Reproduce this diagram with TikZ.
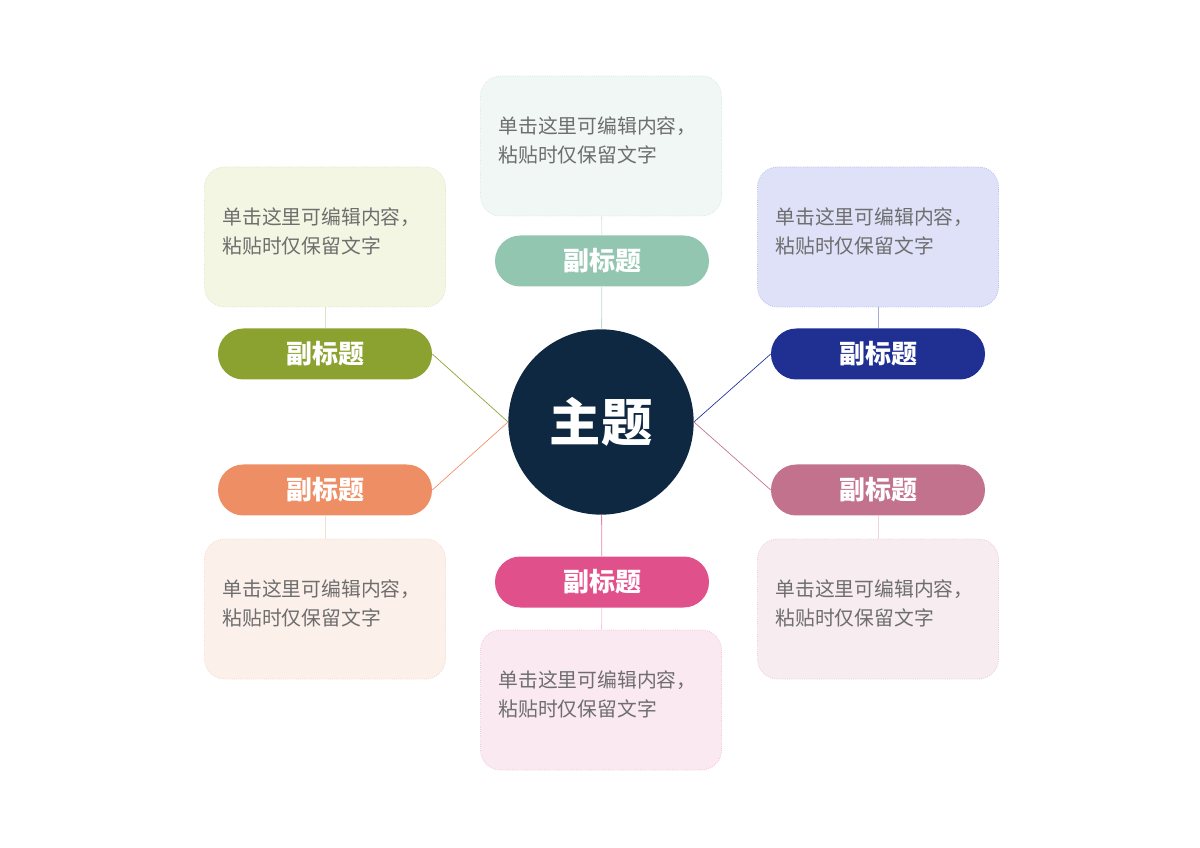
\documentclass[tikz,border=0pt]{standalone}
\usepackage{fontspec}
\usepackage{xcolor}
\usepackage{tikz}
\usetikzlibrary{shapes,positioning}
\setmainfont{Noto Sans CJK SC}
\definecolor{topicbg}{HTML}{0F2841}
\definecolor{tealc}{HTML}{93C6B1}
\definecolor{tealbox}{HTML}{F0F7F4}
\definecolor{tealrim}{HTML}{D4E9E0}
\definecolor{olivec}{HTML}{8BA230}
\definecolor{olivebox}{HTML}{F3F6E3}
\definecolor{oliverim}{HTML}{DDE6BE}
\definecolor{orangec}{HTML}{EE8E65}
\definecolor{orangebox}{HTML}{FCF0EB}
\definecolor{orangerim}{HTML}{F6D7CA}
\definecolor{rosec}{HTML}{E0508A}
\definecolor{rosebox}{HTML}{FBE9F1}
\definecolor{roserim}{HTML}{F2C4D8}
\definecolor{mauvec}{HTML}{C2728C}
\definecolor{mauvebox}{HTML}{F7ECF0}
\definecolor{mauverim}{HTML}{EACCD7}
\definecolor{navyc}{HTML}{1F3092}
\definecolor{navybox}{HTML}{DEE1F8}
\definecolor{navyrim}{HTML}{B7BEEE}
\definecolor{notetext}{HTML}{6E6E6E}
\tikzset{topic/.style={circle,fill=topicbg,text=white,minimum size=139pt,inner sep=0pt,font=\fontsize{38.5}{40}\selectfont\bfseries}}
\tikzset{sub/.style={rectangle,rounded corners=19pt,fill=#1,text=white,minimum width=160.5pt,minimum height=38.25pt,inner sep=0pt,font=\fontsize{19.5}{22}\selectfont\bfseries}}
\tikzset{note/.style 2 args={rectangle,rounded corners=15pt,fill=#1,draw=#2,densely dotted,line width=0.6pt,minimum width=180.75pt,minimum height=105pt,text width=153.75pt,text depth=30.6pt,inner sep=0pt,align=left,text=notetext,font=\fontsize{14.85}{21.3}\selectfont}}

\begin{document}
\begin{tikzpicture}[x=0.75pt,y=-0.75pt]
    \useasboundingbox (0,0) rectangle (1200,848);
    \node[topic] (main) at (601,422) {主题};

    \node[sub=tealc] (subt) at (602,261) {副标题};
    \node[sub=rosec] (subb) at (602,582) {副标题};
    \node[sub=olivec] (sublt) at (325,354) {副标题};
    \node[sub=orangec] (sublb) at (325,490) {副标题};
    \node[sub=navyc] (subrt) at (878,354) {副标题};
    \node[sub=mauvec] (subrb) at (878,490) {副标题};

    \node[note={tealbox}{tealrim}] (boxt) at (601,146) {单击这里可编辑内容，\\粘贴时仅保留文字};
    \node[note={rosebox}{roserim}] (boxb) at (601,700) {单击这里可编辑内容，\\粘贴时仅保留文字};
    \node[note={olivebox}{oliverim}] (boxlt) at (325,237) {单击这里可编辑内容，\\粘贴时仅保留文字};
    \node[note={orangebox}{orangerim}] (boxlb) at (325,609) {单击这里可编辑内容，\\粘贴时仅保留文字};
    \node[note={navybox}{navyrim}] (boxrt) at (878,237) {单击这里可编辑内容，\\粘贴时仅保留文字};
    \node[note={mauvebox}{mauverim}] (boxrb) at (878,609) {单击这里可编辑内容，\\粘贴时仅保留文字};

    \draw [tealc!60,line width=0.6pt] (subt) -- (main);
    \draw [tealc!40,line width=0.6pt] (boxt) -- (subt);
    \draw [rosec!70,line width=0.6pt] (main) -- (subb);
    \draw [rosec!30,line width=0.6pt] (subb) -- (boxb);
    \draw [olivec,line width=0.5pt] (sublt.east) -- (main.west);
    \draw [olivec!30,line width=0.6pt] (boxlt) -- (sublt);
    \draw [orangec,line width=0.5pt] (sublb.east) -- (main.west);
    \draw [orangec!30,line width=0.6pt] (sublb) -- (boxlb);
    \draw [navyc,line width=0.5pt] (subrt.west) -- (main.east);
    \draw [navyc!40,line width=0.6pt] (boxrt) -- (subrt);
    \draw [mauvec,line width=0.5pt] (subrb.west) -- (main.east);
    \draw [mauvec!30,line width=0.6pt] (subrb) -- (boxrb);
\end{tikzpicture}
\end{document}
